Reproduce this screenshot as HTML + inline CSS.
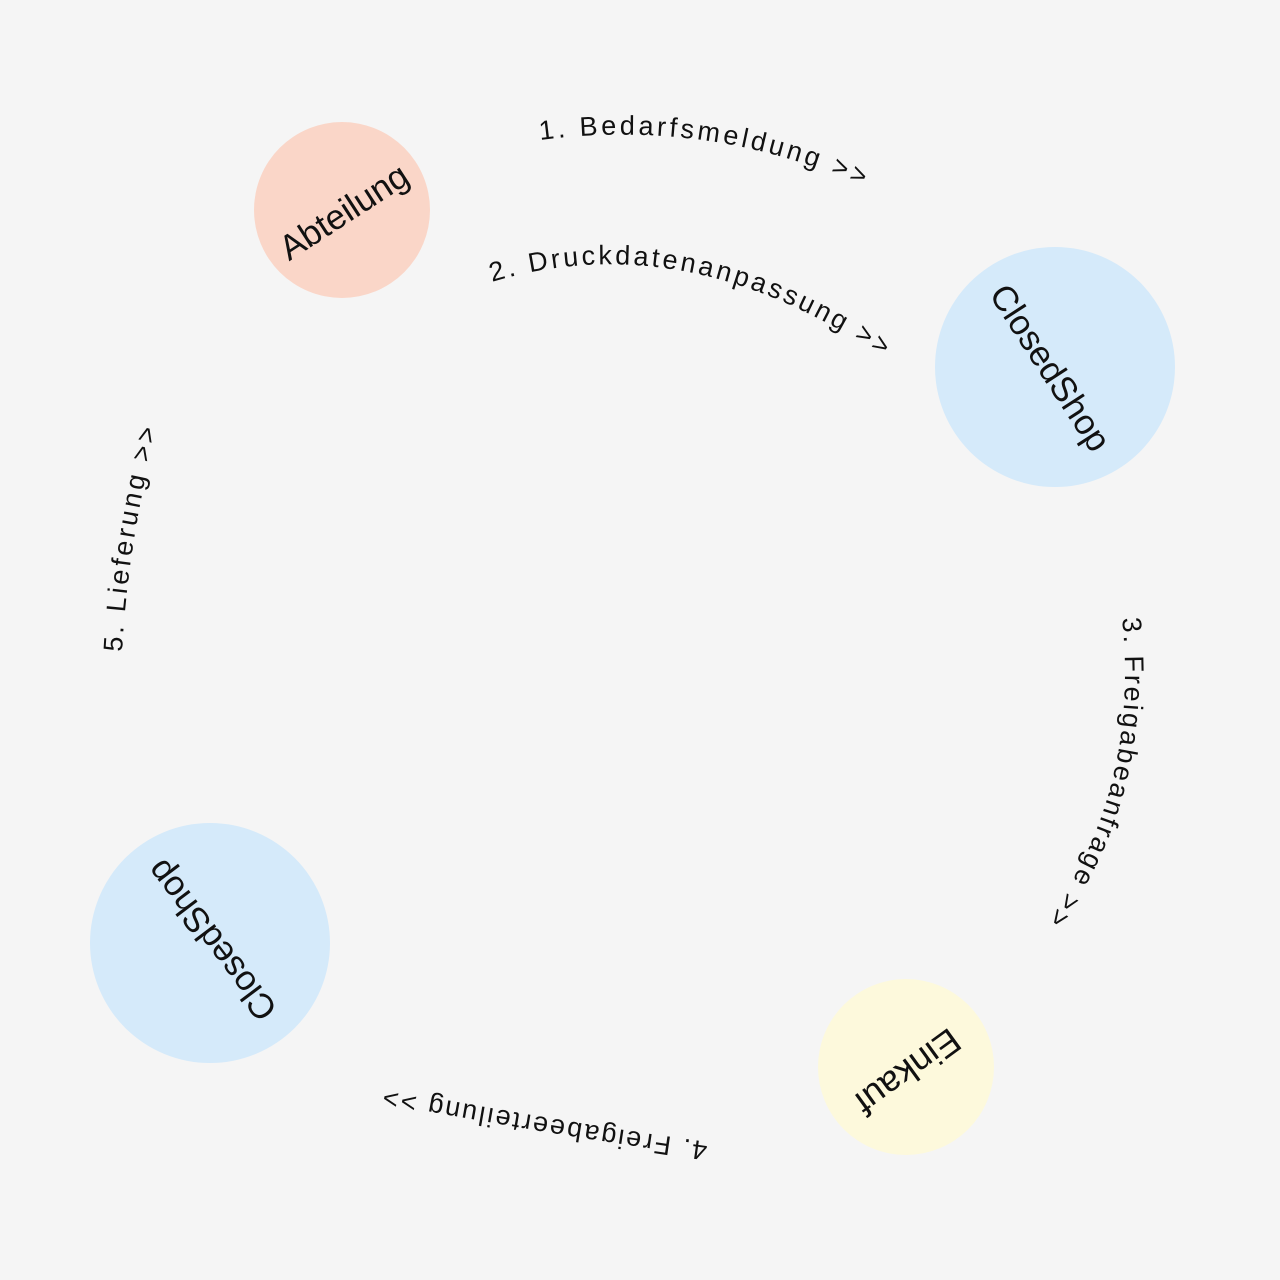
<!DOCTYPE html>
<html><head><meta charset="utf-8"><style>
html,body{margin:0;padding:0;background:#f5f5f5;}
svg{display:block;}
text{font-family:"Liberation Sans",sans-serif;fill:#111;}
</style></head><body>
<svg width="1280" height="1280" viewBox="0 0 1280 1280" xmlns="http://www.w3.org/2000/svg">
<rect width="1280" height="1280" fill="#f5f5f5"/>
<defs>
<path id="p1" d="M 540 140 Q 710 118 862 186"/>
<path id="p2" d="M 492 282 Q 690 222 895 365"/>
<path id="p3" d="M 1122 618 Q 1140 790 1048 918"/>
<path id="p4" d="M 708 1142 Q 560 1122 382 1088"/>
<path id="p5" d="M 122 652 Q 128 540 158 426"/>
</defs>
<circle cx="342" cy="210" r="88" fill="#fad6c8"/>
<circle cx="1055" cy="367" r="120" fill="#d5eafa"/>
<circle cx="906" cy="1067" r="88" fill="#fdf9dc"/>
<circle cx="210" cy="943" r="120" fill="#d5eafa"/>

<text font-size="35" text-anchor="middle" dominant-baseline="central" transform="translate(344,212) rotate(-33)">Abteilung</text>
<text font-size="35" text-anchor="middle" dominant-baseline="central" transform="translate(1050,368) rotate(57)">ClosedShop</text>
<text font-size="36" text-anchor="middle" dominant-baseline="central" transform="translate(908,1072) rotate(144)">Einkauf</text>
<text font-size="35" text-anchor="middle" dominant-baseline="central" transform="translate(212,940) rotate(-127)">ClosedShop</text>

<text font-size="27"><textPath href="#p1" textLength="330" lengthAdjust="spacing">1. Bedarfsmeldung &gt;&gt;</textPath></text>
<text font-size="27"><textPath href="#p2" textLength="412" lengthAdjust="spacing">2. Druckdatenanpassung &gt;&gt;</textPath></text>
<text font-size="27"><textPath href="#p3" textLength="318" lengthAdjust="spacing">3. Freigabeanfrage &gt;&gt;</textPath></text>
<text font-size="27"><textPath href="#p4" textLength="328" lengthAdjust="spacing">4. Freigabeerteilung &gt;&gt;</textPath></text>
<text font-size="27"><textPath href="#p5" textLength="226" lengthAdjust="spacing">5. Lieferung &gt;&gt;</textPath></text>
</svg>
</body></html>
